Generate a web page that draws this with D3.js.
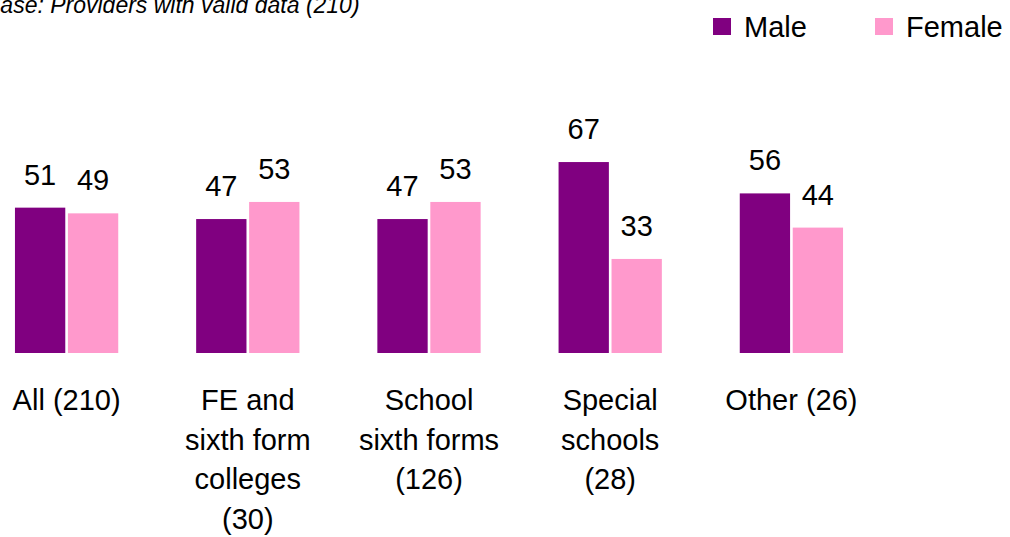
<!DOCTYPE html>
<html>
<head>
<meta charset="utf-8">
<script src="https://cdn.jsdelivr.net/npm/d3@7"></script>
<style>
  body { margin: 0; background: #fff; }
  svg { display: block; font-family: Arial, "Liberation Sans", sans-serif; }
</style>
</head>
<body>
<div id="chart"></div>
<script>
// Chart data
var categories = ['All (210)', 'FE and\nsixth form\ncolleges\n(30)', 'School\nsixth forms\n(126)', 'Special\nschools\n(28)', 'Other (26)'];
var seriesNames = ['Male', 'Female'];
var maleValues = [51, 47, 47, 67, 56];
var femaleValues = [49, 53, 53, 33, 44];
var colors = ['#800080', '#ff99cc'];

var svgWidth = 1010, svgHeight = 537;

var svg = d3.select('#chart')
    .append('svg')
        .attr('width', svgWidth)
        .attr('height', svgHeight);

// Build rows for the grouped bars
var data = categories.map(function(c, i) {
    return { cat: c, values: [maleValues[i], femaleValues[i]] };
});

// Scales
var x0 = d3.scaleBand()
    .domain(categories)
    .range([-24, 882])
    .paddingInner(0.43)
    .paddingOuter(0.215);

var x1 = d3.scaleBand()
    .domain(seriesNames)
    .range([0, x0.bandwidth()])
    .paddingInner(0.05);

var y = d3.scaleLinear()
    .domain([0, 100])
    .range([353, 68]);

var groups = svg.selectAll('g.group')
    .data(data)
    .enter()
    .append('g')
        .attr('class', 'group')
        .attr('transform', function(d) { return 'translate(' + x0(d.cat) + ',0)'; });

groups.selectAll('rect')
    .data(function(d) { return d.values.map(function(v, i) { return { name: seriesNames[i], value: v, i: i }; }); })
    .enter()
    .append('rect')
        .attr('x', function(d) { return x1(d.name); })
        .attr('y', function(d) { return y(d.value); })
        .attr('width', x1.bandwidth())
        .attr('height', function(d) { return y(0) - y(d.value); })
        .attr('fill', function(d) { return colors[d.i]; });

// Value labels above bars
groups.selectAll('text.value')
    .data(function(d) { return d.values.map(function(v, i) { return { name: seriesNames[i], value: v }; }); })
    .enter()
    .append('text')
        .attr('class', 'value')
        .attr('x', function(d) { return x1(d.name) + x1.bandwidth() / 2; })
        .attr('y', function(d) { return y(d.value) - 23; })
        .attr('text-anchor', 'middle')
        .style('font-size', '29px')
        .attr('fill', '#000')
        .text(function(d) { return d.value; });

// Category labels (wrapped)
var xAxis = svg.append('g')
    .attr('transform', 'translate(0,' + y(0) + ')')
    .call(d3.axisBottom(x0).tickSize(0).tickFormat(''));
xAxis.select('.domain').remove();

xAxis.selectAll('.tick')
    .append('text')
        .attr('text-anchor', 'middle')
        .attr('fill', '#000')
        .style('font-size', '29px')
        .each(function(d) {
            var lines = d.split('\n');
            var t = d3.select(this);
            lines.forEach(function(line, i) {
                t.append('tspan')
                    .attr('x', 0)
                    .attr('y', 57 + i * 39.5)
                    .text(line);
            });
        });

// Subtitle (cut off on the left as in the source)
svg.append('text')
    .attr('x', -15)
    .attr('y', 13)
    .style('font-size', '23px')
    .style('font-style', 'italic')
    .attr('fill', '#000')
    .text('Base: Providers with valid data (210)');

// Legend
var legendX = [713, 875];
var legend = svg.selectAll('g.legend')
    .data(seriesNames)
    .enter()
    .append('g')
        .attr('class', 'legend')
        .attr('transform', function(d, i) { return 'translate(' + legendX[i] + ',18)'; });

legend.append('rect')
    .attr('width', 18)
    .attr('height', 17)
    .attr('fill', function(d, i) { return colors[i]; });

legend.append('text')
    .attr('x', 31)
    .attr('y', 19)
    .style('font-size', '29px')
    .attr('fill', '#000')
    .text(function(d) { return d; });
</script>
</body>
</html>
